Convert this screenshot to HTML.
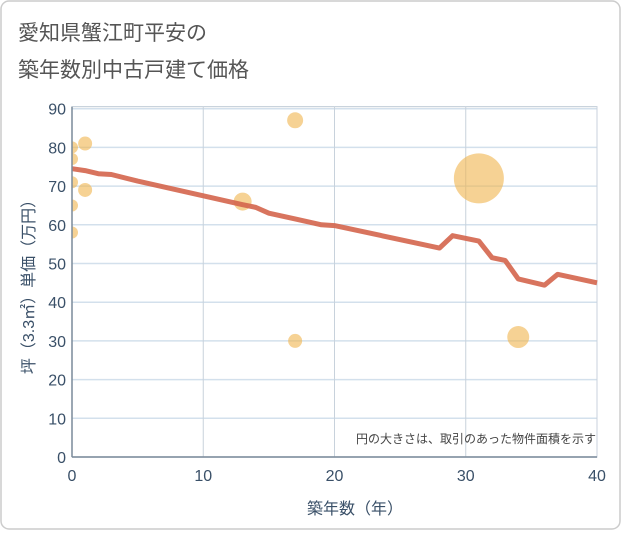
<!DOCTYPE html>
<html><head><meta charset="utf-8"><style>
body{margin:0;background:#fff;font-family:"Liberation Sans","Noto Sans CJK JP",sans-serif}
svg text{font-family:"Liberation Sans","Noto Sans CJK JP",sans-serif}
</style></head><body>
<svg id="c" width="621" height="530">
<defs><clipPath id="pc"><rect x="72" y="100" width="525" height="357"/></clipPath></defs>
<rect x="1" y="1" width="619" height="528" rx="8" fill="#fff" stroke="#ccc" stroke-width="1.5"/>
<text x="18" y="40" font-size="21" fill="#555">愛知県蟹江町平安の</text>
<text x="18" y="77" font-size="21" fill="#555">築年数別中古戸建て価格</text>
<g id="grid"></g><g id="bubbles" clip-path="url(#pc)"></g><g id="line"></g><g id="axes"></g>
<text x="596" y="443" font-size="12" fill="#444" text-anchor="end">円の大きさは、取引のあった物件面積を示す</text>
<text x="355" y="514" font-size="16" fill="#3a5068" text-anchor="middle">築年数（年）</text>
<text transform="translate(34,283) rotate(-90)" font-size="16" fill="#3a5068" text-anchor="middle">坪（3.3㎡）単価（万円）</text>
</svg>
<script>
const xTicks=[0,10,20,30,40];
const yTicks=[0,10,20,30,40,50,60,70,80,90];
const lineX=[0,1,2,3,5,10,13,14,15,17,19,20,28,29,31,32,33,34,36,37,40];
const lineY=[74.5,74,73.2,73,71.3,67.5,65.2,64.5,63,61.5,60,59.8,54,57.2,55.8,51.5,50.8,46,44.4,47.2,45];
const bubX=[0,0,0,0,0,1,1,13,17,17,31,34];
const bubY=[80,77,71,65,58,81,69,66,87,30,72,31];
const bubR=[6,6,6,6,6,7,7,9,8,7,25,11];
const X=v=>72+v*13.125, Y=v=>457-v*3.87;
const ns="http://www.w3.org/2000/svg";
function mk(t,a,p){const e=document.createElementNS(ns,t);for(const k in a)e.setAttribute(k,a[k]);p.appendChild(e);return e;}
const g=document.getElementById('grid'),ax=document.getElementById('axes');
mk('rect',{x:72,y:Y(90)-2,width:525,height:457-Y(90)+2,fill:'none',stroke:'#bcc8d4'},g);
yTicks.forEach(v=>{const l=mk('line',{x1:72,x2:597,y1:Y(v),y2:Y(v),stroke:'#d3e0ec','stroke-width':1.5},g);


const t=mk('text',{x:66,y:Y(v)+6,'font-size':16,fill:'#3a5068','text-anchor':'end'},ax);t.textContent=v;

});
xTicks.forEach(v=>{const l=mk('line',{x1:X(v),x2:X(v),y1:Y(90)-2,y2:457,stroke:'#c8d2dc'},g);


const t=mk('text',{x:X(v),y:481,'font-size':16,fill:'#3a5068','text-anchor':'middle'},ax);t.textContent=v;

});
mk('line',{x1:72,x2:72,y1:Y(90)-2,y2:457,stroke:'#7a8a9a','stroke-width':1.5},ax);
mk('line',{x1:72,x2:597,y1:457,y2:457,stroke:'#7a8a9a','stroke-width':1.5},ax);
const b=document.getElementById('bubbles');
bubX.forEach((v,i)=>{const c=mk('circle',{cx:X(v),cy:Y(bubY[i]),r:bubR[i],fill:'#f0b44c','fill-opacity':0.6},b);

});
const p=mk('polyline',{points:lineX.map((v,i)=>X(v)+','+Y(lineY[i])).join(' '),fill:'none',stroke:'#d4654d','stroke-width':5,'stroke-linejoin':'round','stroke-opacity':0.9},document.getElementById('line'));


</script>
</body></html>
